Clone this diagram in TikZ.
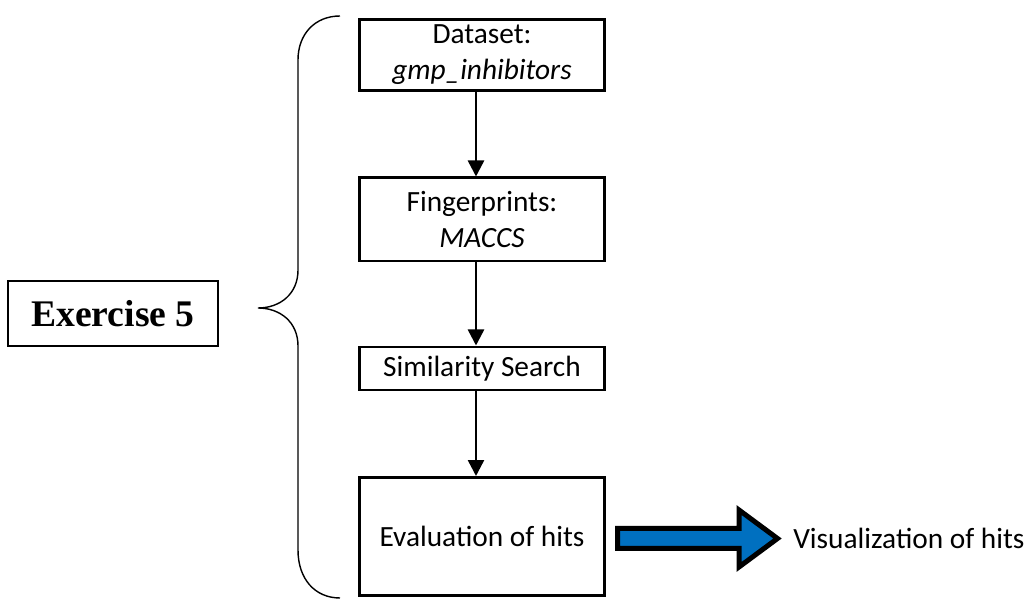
\documentclass[tikz,border=0pt]{standalone}
\usepackage{fontspec}
\setmainfont{Carlito}
\newfontfamily\exfont{Liberation Serif}
\usepackage{xcolor}
\usetikzlibrary{arrows.meta}
\definecolor{arrowblue}{RGB}{0,112,192}
\tikzset{
  stepbox/.style={draw, line width=1.7pt, minimum width=4.9cm, align=center, inner sep=0pt},
  flow/.style={-{Triangle[length=0.32cm,width=0.32cm]}, line width=1.4pt}
}

\begin{document}
\begin{tikzpicture}[font=\fontsize{16.7}{20.5}\selectfont]
\useasboundingbox (0,0) rectangle (20.6,11.98);
% 练习标签
\node[draw, line width=0.8pt, minimum width=4.2cm, minimum height=1.3cm,
  font=\exfont\bfseries\fontsize{21.4}{25}\selectfont] (ex) at (2.26,5.71) {Exercise 5};
% 大括号
\draw[line width=0.8pt] (6.8,11.66) .. controls (6.3,11.66) and (5.96,11.3) .. (5.96,10.78)
  -- (5.96,6.58) .. controls (5.96,6.1) and (5.6,5.82) .. (5.16,5.82)
  .. controls (5.6,5.82) and (5.96,5.54) .. (5.96,5.06)
  -- (5.96,0.98) .. controls (5.96,0.4) and (6.3,0.02) .. (6.8,0.02);
% 流程框
\node[stepbox, minimum height=1.42cm] (data) at (9.64,10.88) {Dataset:\\\textit{gmp\_inhibitors}};
\node[stepbox, minimum height=1.66cm] (fp) at (9.64,7.59) {Fingerprints:\\\textit{MACCS}};
\node[stepbox, minimum height=0.86cm] (sim) at (9.64,4.61) {Similarity Search};
\node[stepbox, minimum height=2.36cm] (eval) at (9.64,1.25) {Evaluation of hits};
% 流程箭头
\draw[flow] ([xshift=-0.12cm]data.south) -- ([xshift=-0.12cm]fp.north);
\draw[flow] ([xshift=-0.12cm]fp.south) -- ([xshift=-0.12cm]sim.north);
\draw[flow] ([xshift=-0.12cm]sim.south) -- ([xshift=-0.12cm]eval.north);
% 蓝色箭头
\draw[line width=0.1cm, fill=arrowblue] (12.35,1.01) -- (14.78,1.01) -- (14.78,0.64)
  -- (15.55,1.21) -- (14.78,1.78) -- (14.78,1.41) -- (12.35,1.41) -- cycle;
% 可视化
\node[anchor=west, inner sep=0pt] (vis) at (15.86,1.22) {Visualization of hits};
\end{tikzpicture}
\end{document}
